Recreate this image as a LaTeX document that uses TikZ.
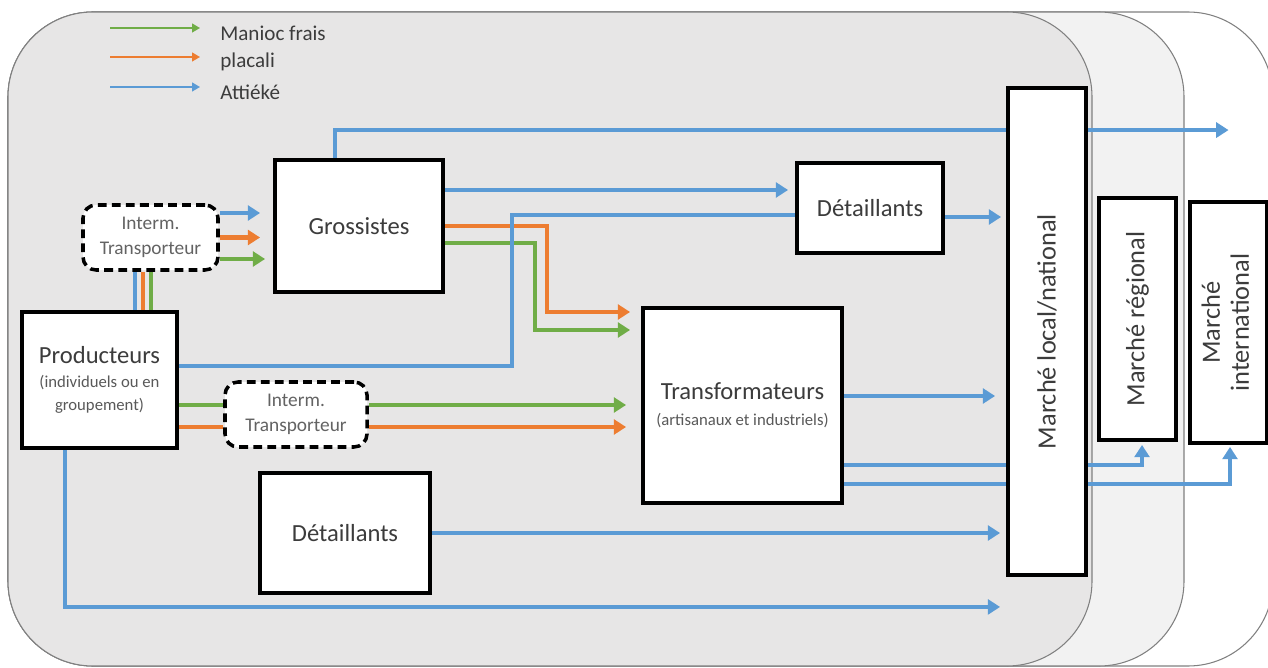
\documentclass[tikz,border=0pt]{standalone}
\usepackage{fontspec}
\setmainfont{Carlito}
\usepackage{tikz}
\usetikzlibrary{arrows.meta, calc, positioning}
\definecolor{cblue}{RGB}{91,155,213}
\definecolor{corange}{RGB}{237,125,49}
\definecolor{cgreen}{RGB}{112,173,71}
\definecolor{panelA}{RGB}{231,230,230}
\definecolor{panelB}{RGB}{242,242,242}
\definecolor{txt}{RGB}{60,60,60}
\pgfdeclarelayer{back}
\pgfdeclarelayer{flows}
\pgfsetlayers{back,flows,main}
\tikzset{
    actor/.style={draw=black, fill=white, line width=2.2pt, align=center, text=txt, font=\fontsize{14}{16}\selectfont, inner sep=2pt},
    interm/.style={draw=black, fill=white, line width=2pt, dash pattern=on 5pt off 3pt, rounded corners=2.6mm, align=center, text=txt!80, font=\fontsize{11}{14}\selectfont},
    market/.style={actor, font=\fontsize{15}{16.5}\selectfont},
    legtext/.style={anchor=west, inner sep=0pt, text=txt, font=\fontsize{12}{14}\selectfont},
    flow/.style={line width=2.4pt},
    arr/.style={-{Triangle[length=7pt,width=8.5pt]}},
    legline/.style={line width=0.9pt, -{Triangle[length=4.5pt,width=5pt]}},
    panel/.style={draw=black!50, line width=0.6pt, rounded corners=17mm},
}
\newcommand{\subfont}{\fontsize{9.5}{12.5}\selectfont\color{txt!85}}

\begin{document}
\begin{tikzpicture}[x=0.2mm, y=-0.2mm]
    \useasboundingbox (0,0) rectangle (1268,668);
    % market areas
    \begin{pgfonlayer}{back}
        \filldraw[panel, fill=white] (8,12) rectangle (1273,666);
        \filldraw[panel, fill=panelB] (8,12) rectangle (1184,666);
        \filldraw[panel, fill=panelA] (8,12) rectangle (1092,666);
    \end{pgfonlayer}

    % legend
    \node[legtext] (lgA) at (220,33) {Manioc frais};
    \node[legtext] (lgB) at (220,62) {placali};
    \node[legtext] (lgC) at (220,92) {Attiéké};
    \draw[legline, cgreen] ([shift={(-22mm,1mm)}]lgA.west) -- ([shift={(-4mm,1mm)}]lgA.west);
    \draw[legline, corange] ([shift={(-22mm,1mm)}]lgB.west) -- ([shift={(-4mm,1mm)}]lgB.west);
    \draw[legline, cblue] ([shift={(-22mm,1mm)}]lgC.west) -- ([shift={(-4mm,1mm)}]lgC.west);

    % actors
    \node[actor, minimum width=33.6mm, minimum height=26.4mm] (gross) at (359,226) {Grossistes};
    \node[interm, minimum width=27mm, minimum height=13mm] (intA) at (150.5,237.5) {Interm.\\Transporteur};
    \node[actor, minimum width=31mm, minimum height=27.2mm] (prod) at (99.5,380) {Producteurs\\[-2pt]\subfont (individuels ou en\\[-3pt]\subfont groupement)};
    \node[interm, minimum width=28.4mm, minimum height=13mm] (intB) at (296,414.5) {Interm.\\Transporteur};
    \node[actor, minimum width=34mm, minimum height=24mm] (detB) at (345,533) {Détaillants};
    \node[actor, minimum width=39.8mm, minimum height=39mm] (trans) at (742.5,405.5) {Transformateurs\\[-1pt]\subfont (artisanaux et industriels)};
    \node[actor, minimum width=29.2mm, minimum height=18mm] (detA) at (870,208) {Détaillants};

    % markets
    \node[market, minimum width=15.6mm, minimum height=97.4mm] (mloc) at (1047,331.5) {\rotatebox{90}{Marché local/national}};
    \node[market, minimum width=15.4mm, minimum height=48.4mm] (mreg) at (1137.5,319) {\rotatebox{90}{Marché régional}};
    \node[market, minimum width=15.4mm, minimum height=48.2mm] (mint) at (1228.5,322.5) {\rotatebox{90}{\begin{tabular}{@{}c@{}}Marché\\international\end{tabular}}};

    \begin{pgfonlayer}{flows}
        % producteurs -> intermediaires
        \draw[flow, cblue] ([xshift=7.1mm]prod.north) -- ([xshift=7.1mm]prod.north |- intA.south);
        \draw[flow, corange] ([xshift=8.7mm]prod.north) -- ([xshift=8.7mm]prod.north |- intA.south);
        \draw[flow, cgreen] ([xshift=10.3mm]prod.north) -- ([xshift=10.3mm]prod.north |- intA.south);
        \draw[flow, cgreen] ([yshift=1.9mm]intB.west -| prod.east) -- ([yshift=1.9mm]intB.west);
        \draw[flow, corange] ([yshift=-2.5mm]intB.west -| prod.east) -- ([yshift=-2.5mm]intB.west);

        % intermediaires -> grossistes / transformateurs
        \draw[flow, cblue, arr, shorten >=2.6mm] ([yshift=4.9mm]intA.east) -- ([yshift=4.9mm]intA.east -| gross.west);
        \draw[flow, corange, arr, shorten >=2.6mm] (intA.east) -- (intA.east -| gross.west);
        \draw[flow, cgreen, arr, shorten >=1.6mm] ([yshift=-4.3mm]intA.east) -- ([yshift=-4.3mm]intA.east -| gross.west);
        \draw[flow, cgreen, arr, shorten >=3mm] ([yshift=1.9mm]intB.east) -- ([yshift=1.9mm]intB.east -| trans.west);
        \draw[flow, corange, arr, shorten >=3mm] ([yshift=-2.5mm]intB.east) -- ([yshift=-2.5mm]intB.east -| trans.west);

        % grossistes
        \draw[flow, cblue, arr] ([xshift=-4.8mm]gross.north) |- ([yshift=14mm]mint.north);
        \draw[flow, cblue, arr, shorten >=1.4mm] ([yshift=7.2mm]gross.east) -- ([yshift=7.2mm]gross.east -| detA.west);
        \draw[flow, corange, arr, shorten >=2.2mm] (gross.east) -- ([xshift=20.4mm]gross.east) |- ([yshift=18.7mm]trans.west);
        \draw[flow, cgreen, arr, shorten >=2.2mm] ([yshift=-3.4mm]gross.east) -- ([xshift=18mm,yshift=-3.4mm]gross.east) |- ([yshift=15.1mm]trans.west);

        % producteurs -> detaillants, marche
        \draw[flow, cblue] ([yshift=2.8mm]prod.east) -- ([xshift=66.6mm,yshift=2.8mm]prod.east) |- ([yshift=-1.4mm]detA.west);
        \draw[flow, cblue, arr, shorten >=1.2mm] ([xshift=-6.9mm]prod.south) |- ([yshift=-6mm]mloc.south west);

        % vers les marches
        \draw[flow, cblue, arr, shorten >=1mm] ([yshift=-1.8mm]detA.east) -- ([yshift=-1.8mm]detA.east -| mloc.west);
        \draw[flow, cblue, arr, shorten >=1.2mm] (detB.east) -- (detB.east -| mloc.west);
        \draw[flow, cblue, arr, shorten >=2.2mm] ([yshift=1.9mm]trans.east) -- ([yshift=1.9mm]trans.east -| mloc.west);
        \draw[flow, cblue, arr, shorten >=0.6mm] ([yshift=-11.9mm]trans.east) -| ([xshift=0.9mm]mreg.south);
        \draw[flow, cblue, arr, shorten >=0.4mm] ([yshift=-15.7mm]trans.east) -| ([xshift=0.3mm]mint.south);
    \end{pgfonlayer}
\end{tikzpicture}
\end{document}
